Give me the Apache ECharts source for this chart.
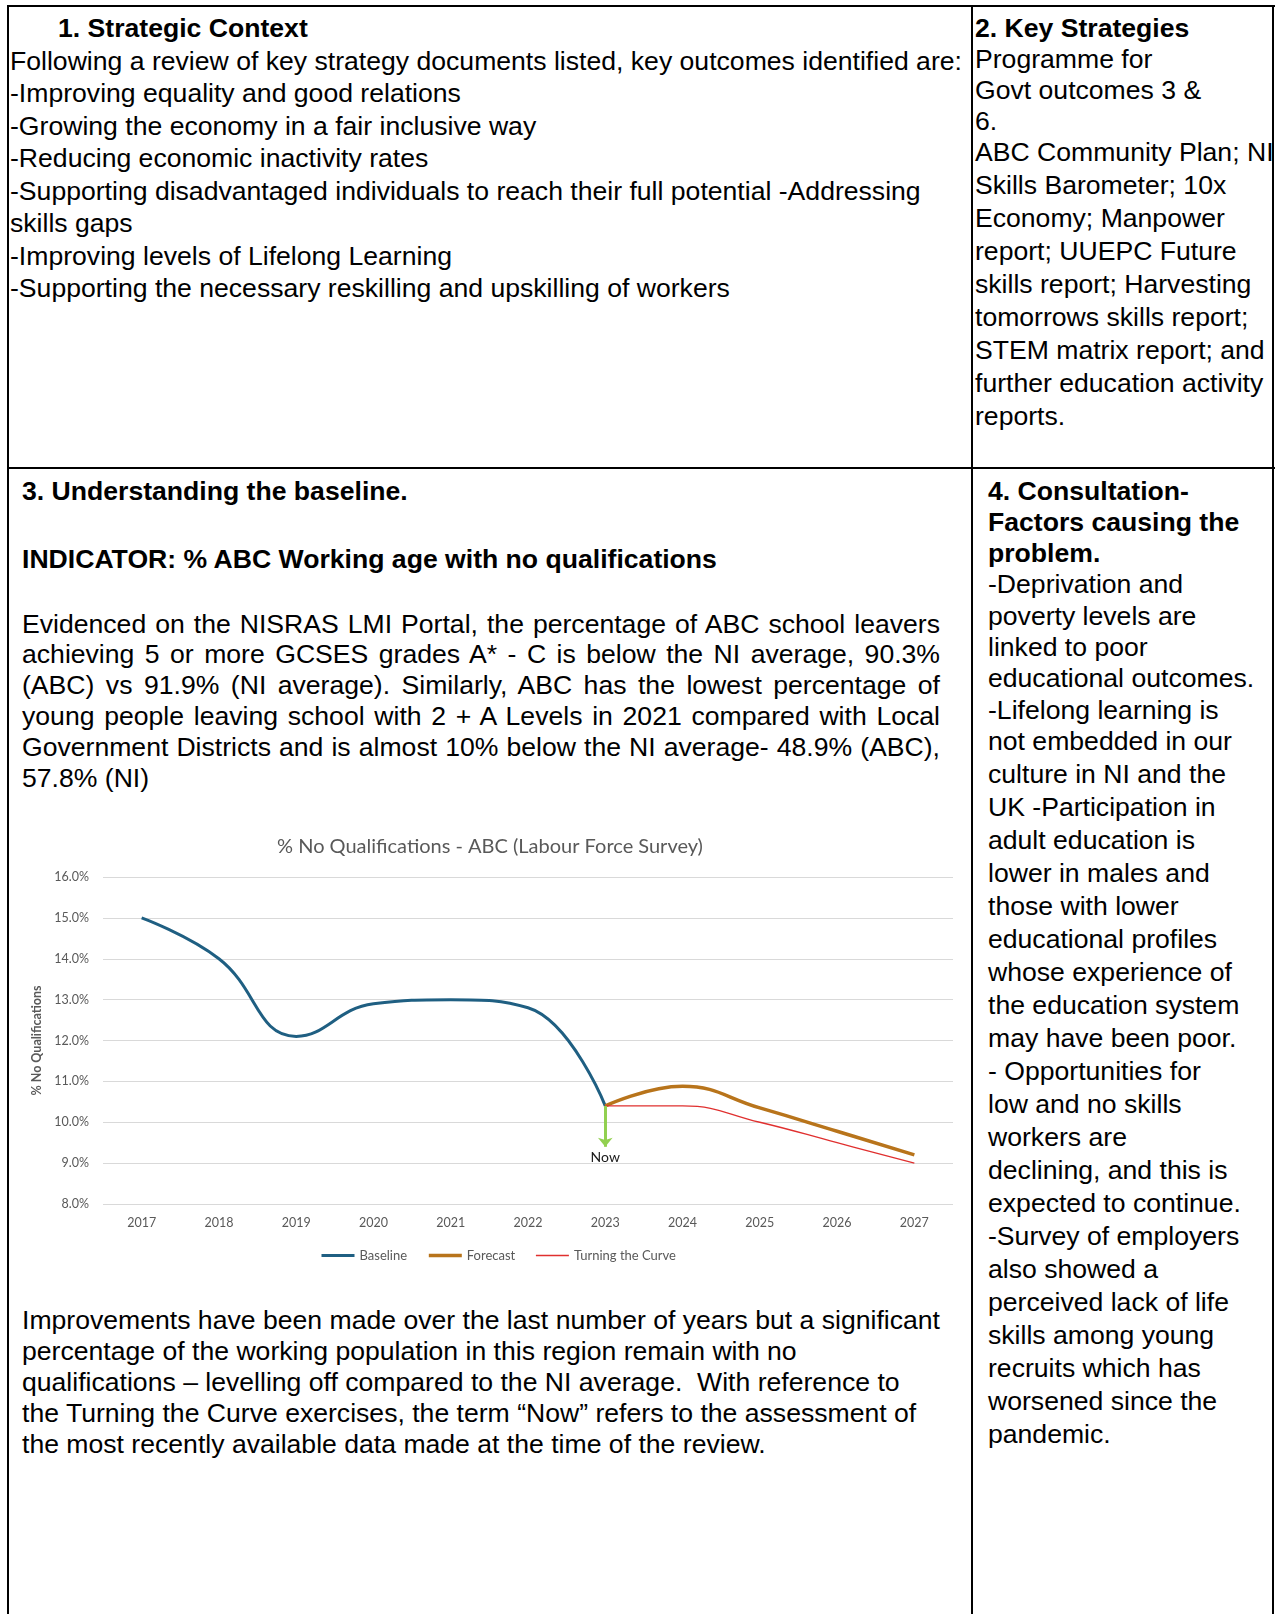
<!DOCTYPE html>
<html>
<head>
<meta charset="utf-8">
<script src="https://cdn.jsdelivr.net/npm/echarts@6/dist/echarts.min.js"></script>
<style>
  html, body { margin: 0; padding: 0; background: #fff; }
  #page {
    position: relative; width: 1279px; height: 1614px; overflow: hidden;
    font-family: 'Liberation Sans', Arial, sans-serif; font-size: 26.6px; color: #000;
  }
  .ln { position: absolute; background: #000; z-index: 2; }
  .txt { position: absolute; white-space: nowrap; }
  .b { font-weight: bold; }
  .just { position: absolute; width: 918px; }
  .just div { text-align: justify; text-align-last: justify; white-space: nowrap; }
  .just div.last { text-align-last: left; }
  #chart { position: absolute; left: 0; top: 800px; width: 980px; height: 480px; z-index: 1; }
</style>
</head>
<body>
<div id="page">
  <!-- table borders -->
  <div class="ln" style="left:7px;top:5px;width:1268px;height:2px"></div>
  <div class="ln" style="left:7px;top:5px;width:2px;height:1609px"></div>
  <div class="ln" style="left:1272px;top:5px;width:2px;height:1609px"></div>
  <div class="ln" style="left:971px;top:5px;width:2px;height:1609px"></div>
  <div class="ln" style="left:7px;top:467px;width:1268px;height:2px"></div>

  <!-- 1. Strategic Context -->
  <div class="txt b" style="left:58px;top:12px;line-height:32px">1. Strategic Context</div>
  <div class="txt" style="left:10px;top:44.75px;line-height:32.5px">Following a review of key strategy documents listed, key outcomes identified are:<br>-Improving equality and good relations<br>-Growing the economy in a fair inclusive way<br>-Reducing economic inactivity rates<br>-Supporting disadvantaged individuals to reach their full potential -Addressing<br>skills gaps<br>-Improving levels of Lifelong Learning<br>-Supporting the necessary reskilling and upskilling of workers</div>

  <!-- 2. Key Strategies -->
  <div class="txt" style="left:975px;top:12.5px;line-height:31px"><span class="b">2. Key Strategies</span><br>Programme for<br>Govt outcomes 3 &amp;<br>6.</div>
  <div class="txt" style="left:975px;top:135.5px;line-height:33px">ABC Community Plan; NI<br>Skills Barometer; 10x<br>Economy; Manpower<br>report; UUEPC Future<br>skills report; Harvesting<br>tomorrows skills report;<br>STEM matrix report; and<br>further education activity<br>reports.</div>

  <!-- 3. Understanding the baseline -->
  <div class="txt b" style="left:22px;top:475px;line-height:32px">3. Understanding the baseline.</div>
  <div class="txt b" style="left:22px;top:543px;line-height:32px">INDICATOR: % ABC Working age with no qualifications</div>
  <div class="just" style="left:22px;top:608.6px;line-height:30.8px">
    <div>Evidenced on the NISRAS LMI Portal, the percentage of ABC school leavers</div>
    <div>achieving 5 or more GCSES grades A* - C is below the NI average, 90.3%</div>
    <div>(ABC) vs 91.9% (NI average). Similarly, ABC has the lowest percentage of</div>
    <div>young people leaving school with 2 + A Levels in 2021 compared with Local</div>
    <div>Government Districts and is almost 10% below the NI average- 48.9% (ABC),</div>
    <div class="last">57.8% (NI)</div>
  </div>
  <div id="chart"></div>
  <div class="txt" style="left:22px;top:1304.5px;line-height:31px">Improvements have been made over the last number of years but a significant<br>percentage of the working population in this region remain with no<br>qualifications – levelling off compared to the NI average.&nbsp; With reference to<br>the Turning the Curve exercises, the term “Now” refers to the assessment of<br>the most recently available data made at the time of the review.</div>

  <!-- 4. Consultation -->
  <div class="txt" style="left:988px;top:475.5px;line-height:31.3px"><span class="b">4. Consultation-<br>Factors causing the<br>problem.</span><br>-Deprivation and<br>poverty levels are<br>linked to poor<br>educational outcomes.<br>-Lifelong learning is</div>
  <div class="txt" style="left:988px;top:724.5px;line-height:33px">not embedded in our<br>culture in NI and the<br>UK -Participation in<br>adult education is<br>lower in males and<br>those with lower<br>educational profiles<br>whose experience of<br>the education system<br>may have been poor.<br>- Opportunities for<br>low and no skills<br>workers are<br>declining, and this is<br>expected to continue.<br>-Survey of employers<br>also showed a<br>perceived lack of life<br>skills among young<br>recruits which has<br>worsened since the<br>pandemic.</div>
</div>

<script>
// chart data
const years = ['2017', '2018', '2019', '2020', '2021', '2022', '2023', '2024', '2025', '2026', '2027']
const baseline = [15.0, 14.0, 12.1, 12.9, 13.0, 12.8, 10.4, null, null, null, null]
const forecast = [null, null, null, null, null, null, 10.4, 10.88, 10.35, 9.78, 9.2]
const turningCurve = [null, null, null, null, null, null, 10.4, 10.4, 10.0, 9.5, 9.0]
const yMin = 8
const yMax = 16
const yStep = 1
// "Now" arrow: drawn at the last baseline year, from the value down
const nowYear = '2023'
const nowFrom = 10.4
const nowTo = 9.4

const grey = '#595959'
const font = 'Lato, "Open Sans", sans-serif'
const curve = 0.45

const chart = echarts.init(document.getElementById('chart'), null, { renderer: 'canvas' })
const option = {
  animation: false,
  backgroundColor: 'transparent',
  title: {
    text: '% No Qualifications - ABC (Labour Force Survey)',
    left: 'center',
    top: 32,
    textStyle: { fontFamily: font, fontSize: 20, fontWeight: 'normal', color: grey }
  },
  grid: { left: 103, right: 27, top: 77, bottom: 76 },
  legend: {
    left: 315,
    top: 444,
    itemWidth: 33,
    itemHeight: 14,
    itemGap: 20,
    itemStyle: { opacity: 0 },
    textStyle: { fontFamily: font, fontSize: 13, color: grey },
    data: [
      { name: 'Baseline', lineStyle: { width: 3 } },
      { name: 'Forecast', lineStyle: { width: 3.5 } },
      { name: 'Turning the Curve', lineStyle: { width: 1.3 } }
    ]
  },
  xAxis: {
    type: 'category',
    data: years,
    boundaryGap: true,
    axisLine: { show: false },
    axisTick: { show: false },
    axisLabel: { fontFamily: font, fontSize: 12.5, color: grey, margin: 12 }
  },
  yAxis: {
    type: 'value',
    min: yMin,
    max: yMax,
    interval: yStep,
    name: '% No Qualifications',
    nameLocation: 'middle',
    nameRotate: 90,
    nameGap: 56,
    nameTextStyle: { fontFamily: font, fontSize: 12.5, fontWeight: 'bold', color: grey },
    axisLine: { show: false },
    axisTick: { show: false },
    axisLabel: {
      fontFamily: font, fontSize: 12.5, color: grey, margin: 14,
      formatter: v => v.toFixed(1) + '%'
    },
    splitLine: { lineStyle: { color: '#D9D9D9', width: 1 } }
  },
  series: [
    {
      name: 'Baseline',
      type: 'line',
      data: baseline,
      smooth: curve,
      showSymbol: false,
      symbol: 'none',
      lineStyle: { color: '#1F5F82', width: 3 },
      itemStyle: { color: '#1F5F82' }
    },
    {
      name: 'Forecast',
      type: 'line',
      data: forecast,
      smooth: curve,
      showSymbol: false,
      symbol: 'none',
      lineStyle: { color: '#B8741B', width: 3.5 },
      itemStyle: { color: '#B8741B' },
      markLine: {
        silent: true,
        symbol: ['none', 'arrow'],
        symbolSize: [11, 9],
        lineStyle: { color: '#92D050', width: 3, type: 'solid' },
        label: {
          show: true,
          position: 'end',
          formatter: 'Now',
          distance: 4,
          fontFamily: font,
          fontSize: 14,
          color: '#1a1a1a'
        },
        data: [[{ coord: [nowYear, nowFrom] }, { coord: [nowYear, nowTo] }]]
      }
    },
    {
      name: 'Turning the Curve',
      type: 'line',
      data: turningCurve,
      smooth: curve,
      showSymbol: false,
      symbol: 'none',
      lineStyle: { color: '#E0302F', width: 1.3 },
      itemStyle: { color: '#E0302F' }
    }
  ]
}
chart.setOption(option)
</script>
</body>
</html>
